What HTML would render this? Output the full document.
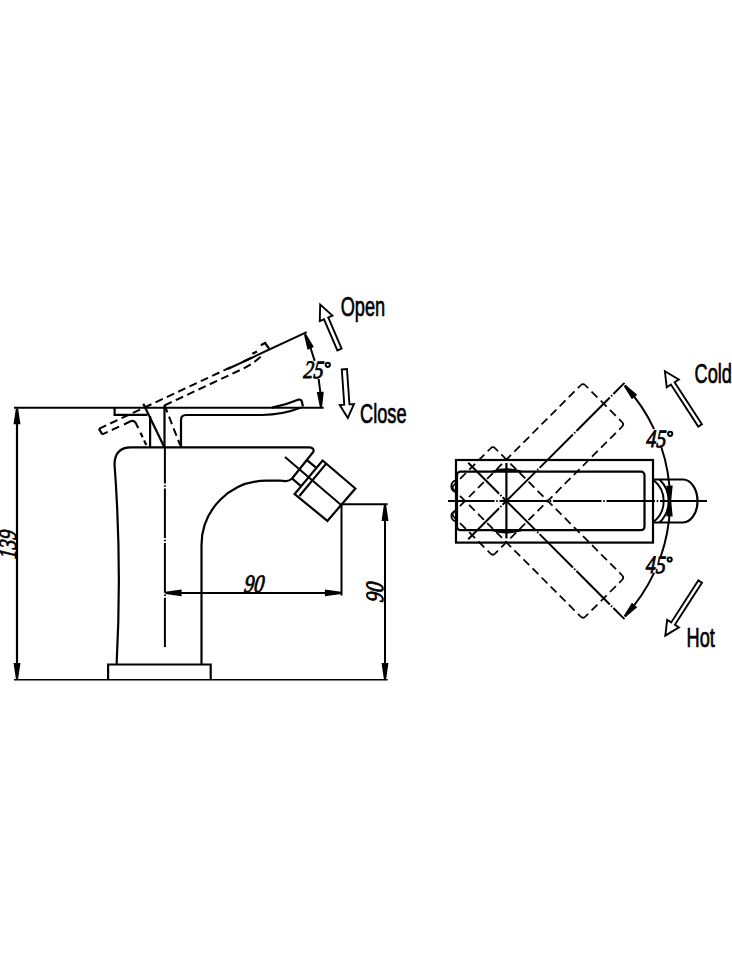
<!DOCTYPE html>
<html><head><meta charset="utf-8"><style>
html,body{margin:0;padding:0;background:#fff;width:732px;height:976px;overflow:hidden}
svg{display:block}
.lbl{font-family:"Liberation Sans",sans-serif;font-size:28px;fill:#000;stroke:#000;stroke-width:0.7px}
.num{font-family:"Liberation Serif",serif;font-style:italic;font-size:25px;fill:#000;stroke:#000;stroke-width:0.85px}
</style></head><body>
<svg width="732" height="976" viewBox="0 0 732 976">
<rect width="732" height="976" fill="#fff"/>
<g fill="none" stroke="#000" stroke-width="2.2" stroke-linecap="butt" stroke-linejoin="miter">
<path d="M14,407.7 H323.6" stroke-width="1.9"/>
<path d="M14,679.7 H387.6" stroke-width="1.6"/>
<path d="M17,409 V678.5" stroke-width="2.2"/>
<polygon points="17,408.6 19.2,423.1 14.8,423.1" fill="#000"/>
<polygon points="17,678.7 14.8,664.2 19.2,664.2" fill="#000"/>
<path d="M114.6,407.6 V414.9 H147.4"/>
<path d="M143.3,403.7 L164.5,447.4"/>
<path d="M150.1,416 V447.4"/>
<path d="M164.5,405.5 V447.4" stroke-width="2.2"/>
<path d="M181,447.4 V420 Q181,415 186,415 H262 C276,415 290,412 301,407.6"/>
<path d="M272,407.6 C284,405.5 291,402.8 298,399.8 Q301,398.8 301.8,401.5 L303,406.4"/>
<path d="M131,447.4 H309.4 Q314.5,447.8 313.4,451.8 L292.3,478.3 Q289,481.4 285.5,481.1 Q283,480.7 280,480.7 H266.4 A64.9,64.4 0 0 0 201.5,545 V664.5"/>
<path d="M131,447.4 Q115,447.4 114.5,464 Q122,564 116.6,664.5"/>
<path d="M108.1,679.6 V664.5 H210.7 V679.6"/>
<path d="M164.9,447.4 V647" stroke-width="2" stroke-dasharray="49.6,1.75,1.5,1.75" stroke-dashoffset="13.5"/>
<path d="M306.9,460.2 L315.8,467.3 M292.5,478.9 L300.7,485.8"/>
<polygon points="322.6,460.5 355.4,488.5 327.4,520.9 294.6,494"/>
<path d="M326,463.9 L299.4,496"/>
<path d="M285,457 L341.7,505.6" stroke-width="2"/>
<path d="M341.5,504.3 V595.5 M341.5,504.3 H387.6" stroke-width="2"/>
<path d="M385,506 V678" stroke-width="2"/>
<polygon points="385,504.8 387.2,519.8 382.8,519.8" fill="#000"/>
<polygon points="385,679.2 382.8,664.2 387.2,664.2" fill="#000"/>
<path d="M166,592.9 H340.5" stroke-width="2"/>
<polygon points="165.5,592.9 180.5,590.7 180.5,595.1" fill="#000"/>
<polygon points="341,592.9 326,595.1 326,590.7" fill="#000"/>
<path d="M227.7,369 L306.7,332.1" stroke-width="2"/>
<path d="M305.41,335.17 A176,176 0 0 1 314.68,360.86 M318.64,378.85 A176,176 0 0 1 320.99,406.06" stroke-width="2"/>
<polygon points="305.03,334.33 312.32,346.48 308.24,348.14" fill="#000"/>
<polygon points="321,406.99 318.14,393.1 322.54,392.9" fill="#000"/>
<path d="M98.9,428.8 L232,366.6" stroke-width="2" stroke-dasharray="8,4.5"/>
<path d="M164.5,405.4 L242,369.2 Q252,364.5 260.7,356.8" stroke-width="2" stroke-dasharray="8,4.5"/>
<path d="M252.3,353.8 L257,351.5 M243.5,361.5 Q248,359.5 252,357.6"/>
<path d="M98.9,428.8 L102.3,434.4"/>
<path d="M102.3,434.4 L120,426.2" stroke-width="2" stroke-dasharray="8,4.5" stroke-dashoffset="2"/>
<path d="M124,424.4 L130.5,421.3 Q134.5,419.6 136.6,424.6 L138.2,428"/>
<path d="M140.5,432.8 L146.7,446" stroke-dasharray="5,3.5"/>
<path d="M164.5,405 L180.2,445.3" stroke-width="2" stroke-dasharray="8,4.5"/>
<path d="M260.8,345.2 L265.1,343 L269,348.5"/>
<polygon points="341.61,348.59 328.24,317.47 332.46,315.66 320.2,304.6 319.78,321.11 324.01,319.29 337.39,350.41" fill="#fff" stroke="#000" stroke-width="1.9" stroke-linejoin="miter"/>
<polygon points="341.81,369.48 344.27,404.71 339.78,405.03 347.8,418 353.94,404.04 349.45,404.35 346.99,369.12" fill="#fff" stroke="#000" stroke-width="1.9" stroke-linejoin="miter"/>
<rect x="456" y="460" width="197" height="82.6"/>
<rect x="457" y="471.7" width="187.5" height="58.5" rx="3.5"/>
<path d="M448,501.1 H707" stroke-width="2" stroke-dasharray="48.5,1.75,1.5,1.75" stroke-dashoffset="2"/>
<path d="M506.4,463 V538.4"/>
<g transform="rotate(-45 506.4 501)">
<path d="M461.2,471.7 L640.8,471.7" stroke-width="1.75" stroke-dasharray="8.21,4.62" stroke-dashoffset="4.11"/>
<path d="M644,474.9 L644,527" stroke-width="1.75" stroke-dasharray="8.34,4.69" stroke-dashoffset="4.17"/>
<path d="M640.8,530.2 L461.2,530.2" stroke-width="1.75" stroke-dasharray="8.21,4.62" stroke-dashoffset="4.11"/>
<path d="M458,527 L458,474.9" stroke-width="1.75" stroke-dasharray="8.34,4.69" stroke-dashoffset="4.17"/>
<path stroke-width="1.75" d="M458,474.9 A3.2,3.2 0 0 1 461.2,471.7 M640.8,471.7 A3.2,3.2 0 0 1 644,474.9 M644,527 A3.2,3.2 0 0 1 640.8,530.2 M461.2,530.2 A3.2,3.2 0 0 1 458,527"/>
<path d="M452.4,501 H673.4" stroke-width="2" stroke-dasharray="47.2,1.75,1.5,1.75" stroke-dashoffset="3.5"/>
</g>
<g transform="rotate(45 506.4 501)">
<path d="M461.2,471.7 L640.8,471.7" stroke-width="1.75" stroke-dasharray="8.21,4.62" stroke-dashoffset="4.11"/>
<path d="M644,474.9 L644,527" stroke-width="1.75" stroke-dasharray="8.34,4.69" stroke-dashoffset="4.17"/>
<path d="M640.8,530.2 L461.2,530.2" stroke-width="1.75" stroke-dasharray="8.21,4.62" stroke-dashoffset="4.11"/>
<path d="M458,527 L458,474.9" stroke-width="1.75" stroke-dasharray="8.34,4.69" stroke-dashoffset="4.17"/>
<path stroke-width="1.75" d="M458,474.9 A3.2,3.2 0 0 1 461.2,471.7 M640.8,471.7 A3.2,3.2 0 0 1 644,474.9 M644,527 A3.2,3.2 0 0 1 640.8,530.2 M461.2,530.2 A3.2,3.2 0 0 1 458,527"/>
<path d="M452.4,501 H673.4" stroke-width="2" stroke-dasharray="47.2,1.75,1.5,1.75" stroke-dashoffset="3.5"/>
</g>
<path d="M653,479.5 H683 A14.5,21.5 0 0 1 683,522.5 H653"/>
<path d="M654,480.5 A26.5,26.5 0 0 1 654,521.5 M659.6,479.5 A30.2,30.2 0 0 1 659.6,522.5" stroke-width="1.9"/>
<path d="M455.7,480.8 A4.3,5.5 0 0 0 455.7,491.9 M455.7,511.2 A4.3,4.9 0 0 0 455.7,521" stroke-width="1.9"/>
<path d="M493,471.7 Q506.4,467.4 521,471.7 M493,530.2 Q506.4,534.6 521,530.2" stroke-width="2.4"/>
<path d="M625.17,386.05 A169.5,169.5 0 0 1 654.09,429.1 M660.77,445.54 A169.5,169.5 0 0 1 670.1,500.11 M670.1,501.89 A169.5,169.5 0 0 1 660.77,556.46 M654.09,572.9 A169.5,169.5 0 0 1 625.17,615.95 " stroke-width="2"/>
<polygon points="624.77,385.62 635.52,394.84 632.17,397.7" fill="#000"/>
<polygon points="670.1,500.7 667.48,486.81 671.47,486.63" fill="#000"/>
<polygon points="670.1,501.3 671.47,515.37 667.48,515.19" fill="#000"/>
<polygon points="624.77,616.38 632.17,604.3 635.52,607.16" fill="#000"/>
<polygon points="701.94,424.2 674.6,382.17 678.79,379.44 664.9,371.3 666.72,387.3 670.91,384.57 698.26,426.6" fill="#fff" stroke="#000" stroke-width="1.9" stroke-linejoin="miter"/>
<polygon points="698.25,580.41 671.2,622.39 667.16,619.79 665.3,635.6 678.93,627.37 674.9,624.77 701.95,582.79" fill="#fff" stroke="#000" stroke-width="1.9" stroke-linejoin="miter"/>
</g>

<text class="lbl" transform="translate(340.7,316) scale(0.65,1)">Open</text>
<text class="lbl" transform="translate(360,423) scale(0.65,1)">Close</text>
<text class="lbl" transform="translate(694.5,382.7) scale(0.65,1)">Cold</text>
<text class="lbl" transform="translate(686.5,647) scale(0.65,1)">Hot</text>
<text class="num" transform="translate(303,378.2) scale(0.8,1) skewX(-8)">25</text>
<text class="num" transform="translate(646,446.5) scale(0.8,1) skewX(-4)">45</text>
<text class="num" transform="translate(645.5,572.5) scale(0.8,1) skewX(-4)">45</text>
<text class="num" transform="translate(243.5,591.5) scale(0.8,1) skewX(-8)">90</text>
<text class="num" transform="translate(383,602.8) rotate(-90) scale(0.8,1) skewX(-8)">90</text>
<text class="num" transform="translate(15.8,559.2) rotate(-90) scale(0.76,1) skewX(-8)">139</text>
<circle cx="327.8" cy="364.8" r="2.1" fill="none" stroke="#000" stroke-width="2"/>
<circle cx="670.2" cy="433.8" r="2.1" fill="none" stroke="#000" stroke-width="2"/>
<circle cx="669.7" cy="559.5" r="2.1" fill="none" stroke="#000" stroke-width="2"/>

</svg>
</body></html>
